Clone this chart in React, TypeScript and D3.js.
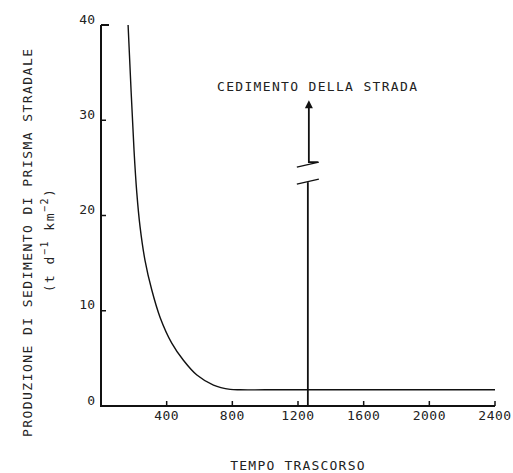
import React from "react";
import * as d3 from "d3";

const xTicks = [400, 800, 1200, 1600, 2000, 2400];
const yTicks = [0, 10, 20, 30, 40];
const curveX = [165, 201, 218, 238, 268, 309, 360, 431, 502, 584, 685, 787, 848, 1000, 1400, 1800, 2400];
const curveY = [40, 26.9, 22.4, 18.8, 15.3, 12.2, 9.3, 6.6, 4.8, 3.25, 2.2, 1.75, 1.7, 1.7, 1.7, 1.7, 1.7];
const failureX = 1260;
const breakLow = 23.5;
const breakHigh = 25.6;
const arrowTop = 32;

const FONT = "'DejaVu Sans Mono', monospace";

export default function App() {
  const W = 513, H = 473;
  const x = d3.scaleLinear().domain([0, 2400]).range([101, 495]);
  const y = d3.scaleLinear().domain([0, 40]).range([406, 25]);
  const pts: [number, number][] = curveX.map((v, i) => [v, curveY[i]]);
  const line = d3.line<[number, number]>().x(d => x(d[0])).y(d => y(d[1])).curve(d3.curveCatmullRom.alpha(0.5));
  const fx = x(failureX);
  const dx = 11;
  return (
    <svg width={W} height={H} style={{ position: "absolute", left: 0, top: 0, background: "#fff" }}>
      <rect width={W} height={H} fill="#fff" />
      {/* axes */}
      <path d={`M${x(0)},${y(40)}V${y(0)}H${x(2400)}`} fill="none" stroke="#111" strokeWidth={2} />
      <line x1={x(0)} x2={x(0) + 8} y1={y(40)} y2={y(40)} stroke="#111" strokeWidth={2} />
      {yTicks.filter(t => t > 0 && t < 40).map(t => (
        <line key={t} x1={x(0)} x2={x(0) + 5} y1={y(t)} y2={y(t)} stroke="#111" strokeWidth={1.5} />
      ))}
      {xTicks.map(t => (
        <line key={t} x1={x(t)} x2={x(t)} y1={y(0)} y2={y(0) - 5} stroke="#111" strokeWidth={1.5} />
      ))}
      {yTicks.map(t => (
        <text key={t} x={95} y={y(t) - 5} textAnchor="end" dominantBaseline="middle"
          fontFamily={FONT} fontSize={13} fill="#222">{t}</text>
      ))}
      {xTicks.map(t => (
        <text key={t} x={x(t)} y={416} textAnchor="middle" dominantBaseline="middle"
          fontFamily={FONT} fontSize={13} letterSpacing={0.5} fill="#222">{t}</text>
      ))}
      {/* curve */}
      <path d={line(pts) || ""} fill="none" stroke="#111" strokeWidth={1.4} />
      {/* failure line */}
      <line x1={fx} x2={fx} y1={y(0)} y2={y(breakLow)} stroke="#111" strokeWidth={1.8} />
      <line x1={fx - dx} x2={fx + dx} y1={y(breakLow) + 2} y2={y(breakLow) - 3} stroke="#111" strokeWidth={1.3} />
      <line x1={fx - dx} x2={fx + dx} y1={y(breakHigh) + 5} y2={y(breakHigh)} stroke="#111" strokeWidth={1.3} />
      <path d={`M${fx + 10},${y(breakHigh)}H${fx + 1}V${y(arrowTop) + 6}`} fill="none" stroke="#111" strokeWidth={1.8} />
      <path d={`M${fx + 1},${y(arrowTop) - 1}L${fx - 3},${y(arrowTop) + 7}L${fx + 5},${y(arrowTop) + 7}Z`} fill="#111" />
      <text x={217} y={87} dominantBaseline="middle" fontFamily={FONT} fontSize={13}
        textLength={200} lengthAdjust="spacing" fill="#222">CEDIMENTO DELLA STRADA</text>
      {/* axis titles */}
      <text x={298} y={466} textAnchor="middle" dominantBaseline="middle" fontFamily={FONT} fontSize={13}
        letterSpacing={1.2} fill="#222">TEMPO TRASCORSO</text>
      <g transform="translate(28,243) rotate(-90)">
        <text x={0} y={0} textAnchor="middle" dominantBaseline="middle" fontFamily={FONT} fontSize={13}
          textLength={388} lengthAdjust="spacing" fill="#222">PRODUZIONE DI SEDIMENTO DI PRISMA STRADALE</text>
      </g>
      <g transform="translate(50,240) rotate(-90)">
        <text x={0} y={0} textAnchor="middle" dominantBaseline="middle" fontFamily={FONT} fontSize={13}
          letterSpacing={1.5} fill="#222">
          <tspan>(t d</tspan>
          <tspan fontSize={10} dy={-5}>−1</tspan>
          <tspan dy={5}> km</tspan>
          <tspan fontSize={10} dy={-5}>−2</tspan>
          <tspan dy={5}>)</tspan>
        </text>
      </g>
    </svg>
  );
}
